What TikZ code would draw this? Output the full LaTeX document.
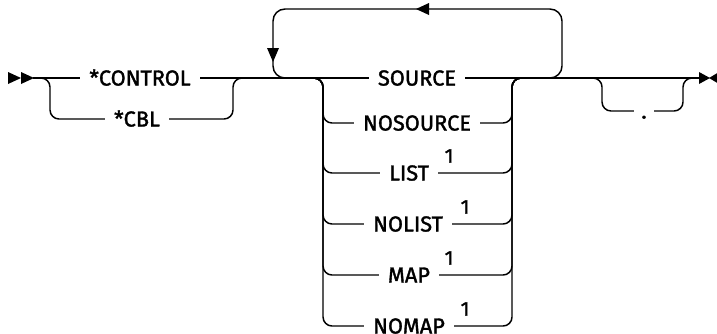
\documentclass[tikz,border=0pt]{standalone}
\usepackage{fontspec}
\setmainfont{Fira Sans}
\newfontfamily\railfont{Fira Sans}[FakeBold=1.6]
\begin{document}
\begin{tikzpicture}[x=0.75pt,y=-0.75pt,line width=1.1pt,
  lbl/.style={fill=white,inner xsep=7pt,inner ysep=0pt,font=\railfont\fontsize{16.3}{16.3}\selectfont,text height=11.3pt,text depth=0pt},
  dotlbl/.style={fill=white,inner xsep=5.5pt,inner ysep=0pt,font=\railfont\fontsize{16.3}{16.3}\selectfont,text height=11.3pt,text depth=0pt},
  suplbl/.style={inner sep=0pt,font=\railfont\fontsize{15}{15}\selectfont},
  rail/.style={rounded corners=6.75pt},
  looprail/.style={rounded corners=9pt},
  tip/.style={fill=black,draw=none}]
\useasboundingbox (0,0) rectangle (717,333);
% key coordinates
\coordinate (start) at (33,78);
\coordinate (end) at (701,78);
% main line
\draw (start) -- (end);
% start / end marks
\fill[tip] (8,72) -- (21,78) -- (8,84) -- cycle;
\fill[tip] (21,72) -- (34,78) -- (21,84) -- cycle;
\fill[tip] (699,72) -- (710,78) -- (699,84) -- cycle;
\fill[tip] (719,72) -- (709,78) -- (719,84) -- cycle;
% group 1
\draw[rail] (38,78) -| (50,119) -- (233,119) |- (245,78);
% loop
\draw[looprail] (540,78) -| (562,9) -| (273,78) -- (295,78);
\fill[tip] (416,9) -- (429,3) -- (429,15) -- cycle;
\fill[tip] (267,48) -- (279,48) -- (273,62) -- cycle;
% group 2
\foreach \yy in {123,173,224,275,326}{
  \draw[rail] (310,78) -| (323,\yy) -- (512,\yy) |- (525,78);
}
% group 3
\draw[rail] (590,78) -| (602,111) -- (683,111) |- (695,78);
% labels
\node[lbl] (control) at (140,78) {*CONTROL};
\node[lbl] (cbl) at (137,119) {*CBL};
\node[lbl] (source) at (417,78) {SOURCE};
\node[lbl] (nosource) at (417,123) {NOSOURCE};
\node[lbl] (list) at (409,173) {LIST};
\node[lbl] (nolist) at (408,224) {NOLIST};
\node[lbl] (map) at (409,275) {MAP};
\node[lbl] (nomap) at (409,326) {NOMAP};
\node[dotlbl] (dot) at (644,111) {.};
\node[suplbl] (s1) at (449,156) {1};
\node[suplbl] (s2) at (465,207) {1};
\node[suplbl] (s3) at (449,258) {1};
\node[suplbl] (s4) at (465,309) {1};
\end{tikzpicture}
\end{document}
